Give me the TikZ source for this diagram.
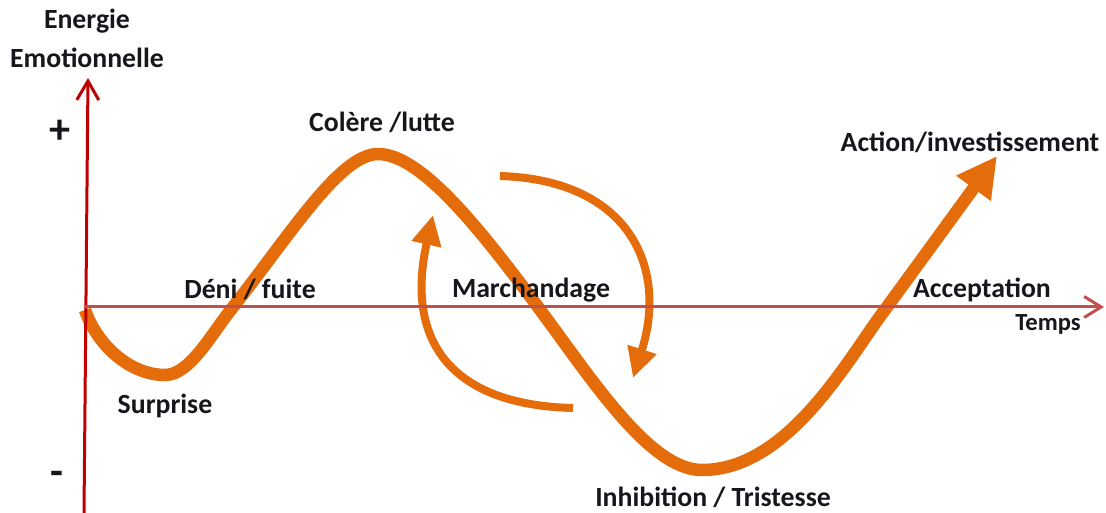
\documentclass[tikz,border=0pt]{standalone}
\usepackage{fontspec}
\setmainfont{Carlito}
\usetikzlibrary{arrows.meta}
\definecolor{curveorange}{RGB}{228,108,10}
\definecolor{axisred}{RGB}{192,0,0}
\definecolor{timered}{RGB}{192,80,77}
\definecolor{inkblack}{RGB}{22,22,28}

\begin{document}
\begin{tikzpicture}[x=0.02cm,y=-0.02cm,
    phase/.style={font=\fontsize{15.8}{19}\selectfont\bfseries, text=inkblack, inner sep=0pt, anchor=base},
    sign/.style={font=\fontsize{24}{26}\selectfont\bfseries, text=inkblack, inner sep=0pt},
    curve/.style={curveorange, line width=0.25cm},
    cycle/.style={curveorange, line width=0.16cm, -{Triangle[length=0.6cm,width=0.57cm]}},
    axis/.style={line width=0.06cm}]
\useasboundingbox (0,0) rectangle (1106,513);

% points of the curve
\coordinate (o) at (85,310);
\coordinate (s) at (165,375);
\coordinate (d) at (233,307);
\coordinate (c) at (378,154);
\coordinate (m) at (538,307);
\coordinate (i) at (702,470);
\coordinate (a) at (887,307);
\coordinate (e) at (997,156);

\draw[curve] (o) .. controls (97,345) and (130,375) .. (s)
    .. controls (190,375) and (212,333) .. (d)
    .. controls (290,235) and (340,154) .. (c)
    .. controls (420,154) and (478,226) .. (m)
    .. controls (593,381) and (650,470) .. (i)
    .. controls (790,470) and (850,355) .. (a);
\draw[curve, -{Triangle[length=0.8cm,width=0.8cm]}] (a) -- (e);

% bargaining loop
\coordinate (r1) at (500,176);
\coordinate (r2) at (633,378);
\coordinate (l1) at (573,408);
\coordinate (l2) at (433,215);
\draw[cycle] (r1) .. controls (630,180) and (668,268) .. (r2);
\draw[cycle] (l1) .. controls (450,405) and (405,340) .. (l2);

% axes
\coordinate (y0) at (84,513);
\coordinate (y1) at (88,78);
\coordinate (x0) at (85,307);
\coordinate (x1) at (1104,307);
\draw[axis, axisred, -{Straight Barb[length=0.38cm,width=0.44cm]}] (y0) -- (y1);
\draw[axis, timered, -{Straight Barb[length=0.34cm,width=0.42cm]}] (x0) -- (x1);

% labels
\node[phase] (energie) at (87,29) {Energie};
\node[phase] (emotion) at (87,68) {Emotionnelle};
\node[sign] (plus) at (60,132) {+};
\node[sign] (minus) at (57,478) {-};
\node[phase] (colere) at (382,132) {Colère /lutte};
\node[phase] (deni) at (250,298) {Déni / fuite};
\node[phase] (marchand) at (531,297) {Marchandage};
\node[phase] (accept) at (982,297) {Acceptation};
\node[phase, font=\fontsize{14}{17}\selectfont\bfseries] (temps) at (1048,331) {Temps};
\node[phase] (surprise) at (165,413) {Surprise};
\node[phase] (inhib) at (713,506) {Inhibition / Tristesse};
\node[phase] (action) at (970,152) {Action/investissement};
\end{tikzpicture}
\end{document}
